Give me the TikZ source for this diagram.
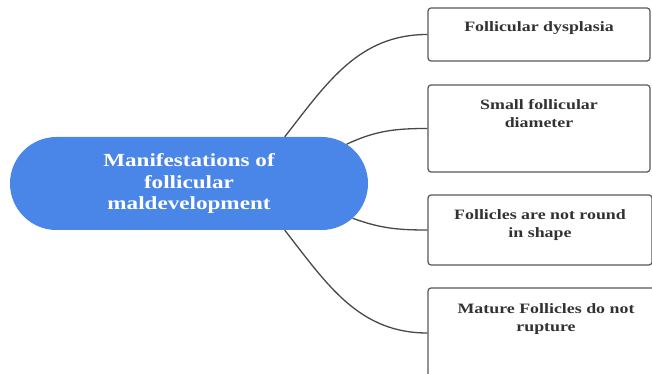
\documentclass[tikz,border=0pt]{standalone}
\usepackage{fontspec}
\newfontfamily\diagfont{Liberation Serif}[FakeStretch=1.25]
\usetikzlibrary{shapes.misc}
\definecolor{mapblue}{RGB}{74,134,232}
\definecolor{boxgray}{RGB}{88,88,88}
\definecolor{linkgray}{RGB}{72,72,72}
\definecolor{textgray}{RGB}{50,50,50}
\begin{document}
\begin{tikzpicture}[x=1pt,y=1pt]

    \tikzset{
      topic/.style={
        rounded rectangle,
        fill=mapblue,
        minimum width=358pt,
        minimum height=93pt,
        inner sep=0pt,
        align=center,
        text=white,
        font=\diagfont\bfseries\fontsize{18.5}{21.5}\selectfont,
      },
      leaf/.style={
        draw=boxgray,
        line width=1.2pt,
        rounded corners=3pt,
        inner sep=0pt,
      },
      leaftext/.style={
        anchor=north,
        inner sep=0pt,
        align=center,
        text=textgray,
        font=\diagfont\bfseries\fontsize{14.3}{17.5}\selectfont,
      },
      link/.style={
        draw=linkgray,
        line width=1.3pt,
      },
    }

	\useasboundingbox (0,0) rectangle (652,374);

	\node[topic] (root) at (189,190.5) {Manifestations of\\follicular\\maldevelopment};

	\node[leaf,minimum width=222pt,minimum height=53pt,
	  label={[leaftext,yshift=-14pt]north:Follicular dysplasia}] (dysplasia) at (539,339.5) {};
	\node[leaf,minimum width=222pt,minimum height=87pt,
	  label={[leaftext,yshift=-15pt]north:Small follicular\\diameter}] (diameter) at (539,245.5) {};
	\node[leaf,minimum width=224pt,minimum height=70pt,
	  label={[leaftext,yshift=-15pt]north:Follicles are not round\\in shape}] (shape) at (540,144) {};
	\node[leaf,minimum width=236pt,minimum height=100pt,
	  label={[leaftext,yshift=-16pt]north:Mature Follicles do not\\rupture}] (rupture) at (546,36) {};

	% branches
	\draw[link] (root.26) to[out=52,in=180] (dysplasia.west);
	\draw[link] (root.14) to[out=25,in=180] (diameter.west);
	\draw[link] (root.-12) to[out=-20,in=180] (shape.west);
	\draw[link] (root.-26) to[out=-52,in=180] ([yshift=5pt]rupture.west);

\end{tikzpicture}
\end{document}
